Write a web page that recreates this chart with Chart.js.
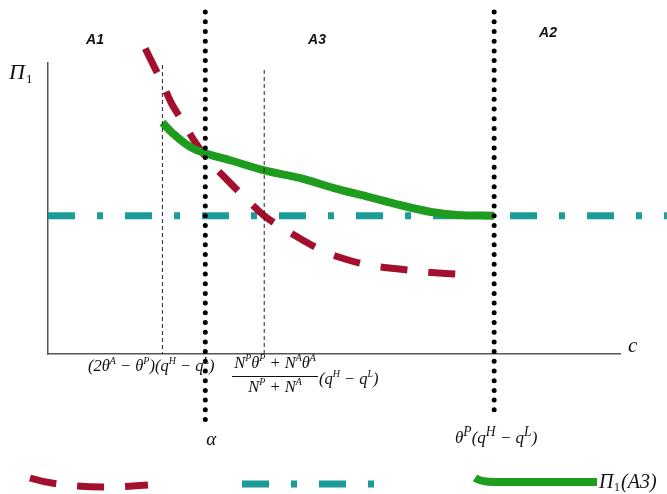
<!DOCTYPE html>
<html>
<head>
<meta charset="utf-8">
<script src="https://cdn.jsdelivr.net/npm/chart.js@4"></script>
<style>
  body { margin: 0; background: #fff; }
  canvas { display: block; }
</style>
</head>
<body>
<canvas id="profitChart" width="667" height="494"></canvas>
<script>
// thresholds on the c axis (axis runs 0..100, profit axis 0..100)
var alphaC = 27.5;
var thetaPC = 78;
var guideC = [20, 37.8];
var guideTop = [99.3, 97.6];
var dotTop = 117.5;
var dotBottom = [-22.5, -20];
var flatProfit = 47.5;
var flatC = [0, 108.2];

// Π1(A3) - solid green
var greenC = [20, 22, 25, 27.5, 32, 38, 44, 50, 56, 61.5, 67, 71.5, 78];
var greenProfit = [79.5, 75.5, 71, 69, 66.5, 63, 60.5, 57, 54, 51.2, 48.8, 47.8, 47.5];

// dashed red
var redC = [17, 18.5, 20, 21.5, 23.5, 25.5, 28, 31, 34.5, 37.8, 41, 44.5, 48.5, 52.5, 57, 61, 65.5, 69.5, 73.5];
var redProfit = [105, 99, 93, 86.5, 80, 73.5, 66.7, 60.5, 53.6, 47.5, 43.3, 39.2, 35, 32.3, 30.2, 29.3, 28.3, 27.7, 27.2];

var red = '#a3102e';
var teal = '#1b9c98';
var green = '#1e9c1e';

function pairs(xs, ys) {
  return xs.map(function (x, i) { return { x: x, y: ys[i] }; });
}
function vertical(c, top, bottom) {
  return [{ x: c, y: top }, { x: c, y: bottom }];
}

// rich text: parts = [text, isSuperscript]
function drawRich(ctx, parts, x, y, size, align, supScale) {
  supScale = supScale || 0.6;
  var fam = '"Liberation Serif", "DejaVu Serif", serif';
  var total = 0;
  parts.forEach(function (p) {
    ctx.font = 'italic ' + (p[1] ? size * supScale : size) + 'px ' + fam;
    total += ctx.measureText(p[0]).width;
  });
  var cx = align === 'center' ? x - total / 2 : x;
  ctx.textAlign = 'left';
  ctx.textBaseline = 'alphabetic';
  parts.forEach(function (p) {
    ctx.font = 'italic ' + (p[1] ? size * supScale : size) + 'px ' + fam;
    ctx.fillText(p[0], cx, p[1] ? y - size * 0.42 : y);
    cx += ctx.measureText(p[0]).width;
  });
  return total;
}

var labelsPlugin = {
  id: 'diagramText',
  afterDraw: function (chart) {
    var ctx = chart.ctx;
    var xs = chart.scales.x, ys = chart.scales.y;
    ctx.save();
    ctx.fillStyle = '#111';

    // region names
    ctx.font = 'bold italic 14px "Liberation Sans Narrow", "Liberation Sans", sans-serif';
    ctx.textAlign = 'center';
    ctx.textBaseline = 'middle';
    ctx.fillText('A1', 95, 40);
    ctx.fillText('A3', 317, 40);
    ctx.fillText('A2', 548, 33);

    // axis names
    ctx.textAlign = 'left';
    ctx.textBaseline = 'alphabetic';
    ctx.font = 'italic 22px "Liberation Serif", serif';
    ctx.fillText('Π', 9, 79);
    ctx.font = '13px "Liberation Serif", serif';
    ctx.fillText('1', 26, 83);
    ctx.font = 'italic 21px "Liberation Serif", serif';
    ctx.fillText('c', xs.right + 8, ys.bottom - 2);

    // tick formulas
    drawRich(ctx, [['(2θ', 0], ['A', 1], [' − θ', 0], ['P', 1], [')(q', 0], ['H', 1], [' − q', 0], ['L', 1], [')', 0]],
      88, 371, 16.5, 'left');

    var mid = 275;
    drawRich(ctx, [['N', 0], ['P', 1], ['θ', 0], ['P', 1], [' + N', 0], ['A', 1], ['θ', 0], ['A', 1]], mid, 368, 16.5, 'center');
    ctx.fillRect(232, 376, 86, 1);
    drawRich(ctx, [['N', 0], ['P', 1], [' + N', 0], ['A', 1]], mid, 392, 16.5, 'center');
    drawRich(ctx, [['(q', 0], ['H', 1], [' − q', 0], ['L', 1], [')', 0]], 319, 384, 16.5, 'left');

    ctx.font = 'italic 19px "Liberation Serif", serif';
    ctx.textAlign = 'center';
    ctx.fillText('α', xs.getPixelForValue(alphaC) + 6, 445);

    drawRich(ctx, [['θ', 0], ['P', 1], ['(q', 0], ['H', 1], [' − q', 0], ['L', 1], [')', 0]], 455, 443, 17, 'left', 0.8);

    // legend samples
    var sets = chart.data.datasets;
    function stroke(ds, path) {
      ctx.save();
      ctx.strokeStyle = ds.borderColor;
      ctx.lineWidth = ds.borderWidth;
      ctx.setLineDash(ds.borderDash || []);
      ctx.lineCap = 'butt';
      ctx.beginPath();
      path();
      ctx.stroke();
      ctx.restore();
    }
    stroke(sets[5], function () { ctx.moveTo(30, 478); ctx.quadraticCurveTo(72, 491, 148, 485); });
    stroke(sets[6], function () { ctx.moveTo(242, 484); ctx.lineTo(376, 484); });
    stroke(sets[4], function () { ctx.moveTo(475, 478); ctx.quadraticCurveTo(481, 482, 495, 482); ctx.lineTo(597, 482); });
    ctx.fillStyle = '#111';
    ctx.font = 'italic 20px "Liberation Serif", serif';
    ctx.textAlign = 'left';
    ctx.fillText('Π', 599, 488);
    ctx.font = '12px "Liberation Serif", serif';
    ctx.fillText('1', 614, 491);
    ctx.font = 'italic 20px "Liberation Serif", serif';
    ctx.fillText('(A3)', 621, 488);
    ctx.restore();
  }
};

var dotted = { borderColor: '#000', borderWidth: 5, borderDash: [0, 9.7], borderCapStyle: 'round' };
var thin = { borderColor: '#222', borderWidth: 1, borderDash: [4, 3] };

new Chart(document.getElementById('profitChart'), {
  type: 'line',
  data: {
    datasets: [
      Object.assign({ label: 'alpha', data: vertical(alphaC, dotTop, dotBottom[0]) }, dotted),
      Object.assign({ label: 'thetaP', data: vertical(thetaPC, dotTop, dotBottom[1]) }, dotted),
      Object.assign({ label: 'g1', data: vertical(guideC[0], guideTop[0], 0) }, thin),
      Object.assign({ label: 'g2', data: vertical(guideC[1], guideTop[1], 0) }, thin),
      { label: 'Π₁(A3)', data: pairs(greenC, greenProfit), borderColor: green, borderWidth: 8,
        cubicInterpolationMode: 'monotone', borderCapStyle: 'butt' },
      { label: 'red', data: pairs(redC, redProfit), borderColor: red, borderWidth: 7,
        borderDash: [27, 21], cubicInterpolationMode: 'monotone' },
      { label: 'teal', data: pairs(flatC, [flatProfit, flatProfit]), borderColor: teal, borderWidth: 7,
        borderDash: [27, 22, 6, 22] }
    ]
  },
  options: {
    responsive: false,
    animation: false,
    events: [],
    clip: false,
    layout: { padding: { left: 48, right: 47, top: 63, bottom: 140 } },
    elements: { point: { radius: 0 }, line: { fill: false } },
    plugins: { legend: { display: false }, tooltip: { enabled: false } },
    scales: {
      x: {
        type: 'linear', min: 0, max: 100,
        ticks: { display: false },
        grid: { display: false, drawTicks: false },
        border: { display: true, color: '#555', width: 1.5 }
      },
      y: {
        type: 'linear', min: 0, max: 100,
        ticks: { display: false },
        grid: { display: false, drawTicks: false },
        border: { display: true, color: '#555', width: 1.5 }
      }
    }
  },
  plugins: [labelsPlugin]
});
</script>
</body>
</html>
